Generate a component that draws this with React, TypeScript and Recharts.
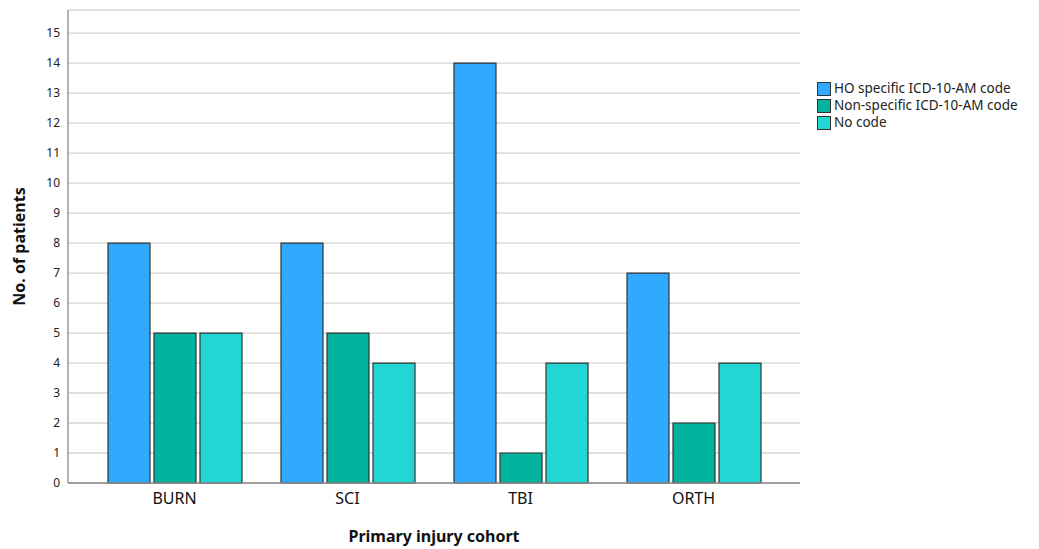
import { BarChart, Bar, XAxis, YAxis, CartesianGrid } from 'recharts';

const cohorts = ['BURN', 'SCI', 'TBI', 'ORTH'];
const hoSpecific = [8, 8, 14, 7];
const nonSpecific = [5, 5, 1, 2];
const noCode = [5, 4, 4, 4];
const yTicks = [0, 1, 2, 3, 4, 5, 6, 7, 8, 9, 10, 11, 12, 13, 14, 15];

const series = [
  { key: 'ho', name: 'HO specific ICD-10-AM code', color: '#30aaff' },
  { key: 'non', name: 'Non-specific ICD-10-AM code', color: '#02b39d' },
  { key: 'none', name: 'No code', color: '#22d6d3' },
];

const data = cohorts.map((c, i) => ({
  cohort: c,
  ho: hoSpecific[i],
  non: nonSpecific[i],
  none: noCode[i],
}));

const font = '"Noto Sans", "DejaVu Sans", sans-serif';

function LegendBox() {
  return (
    <div
      style={{
        position: 'absolute',
        left: 817,
        top: 80,
        fontFamily: font,
        fontSize: 13.5,
        color: '#222',
        lineHeight: '17px',
      }}
    >
      {series.map((s) => (
        <div key={s.key} style={{ display: 'flex', alignItems: 'center' }}>
          <span
            style={{
              display: 'inline-block',
              width: 12,
              height: 12,
              background: s.color,
              border: '1px solid #333',
              marginRight: 3,
            }}
          />
          {s.name}
        </div>
      ))}
    </div>
  );
}

export default function App() {
  return (
    <div style={{ position: 'absolute', left: 0, top: 0, width: 1039, height: 549, background: '#fff' }}>
      <BarChart
        width={1039}
        height={549}
        data={data}
        margin={{ top: 10, right: 239, left: 18, bottom: 36 }}
        barSize={42}
        barGap={4}
      >
        <CartesianGrid horizontal vertical={false} stroke="#d4d4d4" strokeWidth={1.3} />
        <XAxis
          dataKey="cohort"
          padding={{ left: 20, right: 20 }}
          tickLine={false}
          axisLine={{ stroke: '#8a8a8a', strokeWidth: 1.3 }}
          tick={{ fontSize: 16, fill: '#111', fontFamily: font, dy: 2 }}
          label={{
            value: 'Primary injury cohort',
            position: 'bottom',
            offset: 18,
            style: { fontSize: 16, fontWeight: 700, fill: '#111', fontFamily: font },
          }}
        />
        <YAxis
          width={50}
          domain={[0, 15.77]}
          ticks={yTicks}
          interval={0}
          tickLine={false}
          axisLine={{ stroke: '#8a8a8a', strokeWidth: 1.3 }}
          tick={{ fontSize: 12, fill: '#222', fontFamily: font }}
          label={({ viewBox }: any) => (
            <text
              x={21}
              y={viewBox.y + viewBox.height / 2}
              transform={`rotate(-90, 21, ${viewBox.y + viewBox.height / 2})`}
              textAnchor="middle"
              dominantBaseline="middle"
              style={{ fontSize: 16, fontWeight: 700, fill: '#111', fontFamily: font }}
            >
              No. of patients
            </text>
          )}
        />
        {series.map((s) => (
          <Bar
            key={s.key}
            dataKey={s.key}
            name={s.name}
            fill={s.color}
            stroke="#333"
            strokeWidth={1.2}
            isAnimationActive={false}
          />
        ))}
      </BarChart>
      <LegendBox />
    </div>
  );
}
